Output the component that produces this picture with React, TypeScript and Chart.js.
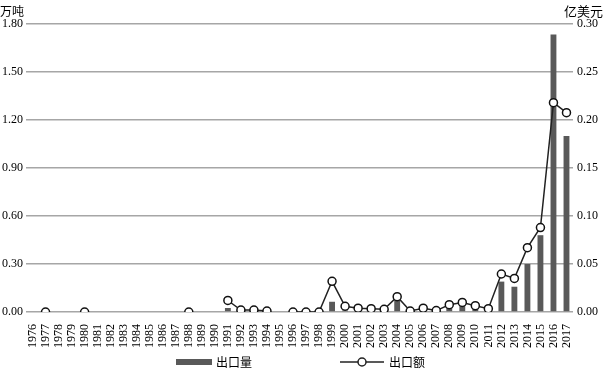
import React, { useEffect, useRef } from 'react';
import { Chart, registerables } from 'chart.js';

Chart.register(...registerables);

const years = [
  '1976', '1977', '1978', '1979', '1980', '1981', '1982', '1983', '1984', '1985',
  '1986', '1987', '1988', '1989', '1990', '1991', '1992', '1993', '1994', '1995',
  '1996', '1997', '1998', '1999', '2000', '2001', '2002', '2003', '2004', '2005',
  '2006', '2007', '2008', '2009', '2010', '2011', '2012', '2013', '2014', '2015',
  '2016', '2017',
];

// 出口量 (万吨), left axis
const exportVolume = [
  0, 0, 0, 0, 0, 0, 0, 0, 0, 0,
  0, 0, 0, 0, 0, 0.025, 0, 0, 0, 0,
  0, 0, 0, 0.064, 0.01, 0, 0, 0, 0.075, 0,
  0.005, 0, 0.04, 0.045, 0.03, 0.01, 0.19, 0.158, 0.30, 0.48,
  1.735, 1.10,
];

// 出口额 (亿美元), right axis
const exportValue = [
  null, 0, null, null, 0, null, null, null, null, null,
  null, null, 0, null, null, 0.012, 0.002, 0.002, 0.001, null,
  0, 0, 0, 0.032, 0.006, 0.004, 0.0035, 0.0028, 0.016, 0.001,
  0.004, 0.0015, 0.0076, 0.010, 0.0066, 0.0035, 0.0396, 0.035, 0.067, 0.088,
  0.218, 0.2076,
];

const leftMax = 1.8;
const leftStep = 0.3;
const rightMax = 0.3;
const rightStep = 0.05;

const volumeLabel = '出口量';
const valueLabel = '出口额';
const leftTitle = '万吨';
const rightTitle = '亿美元';

const CJK = '"Noto Sans CJK SC", sans-serif';
const NUM = '"Liberation Serif", "Times New Roman", serif';

const overlayPlugin = {
  id: 'overlay',
  afterDraw(chart: any) {
    const ctx = chart.ctx;
    ctx.save();
    ctx.fillStyle = '#000';
    ctx.font = '12px ' + CJK;
    ctx.textBaseline = 'middle';
    ctx.textAlign = 'left';
    ctx.fillText(leftTitle, 0, 11);
    ctx.font = '13px ' + CJK;
    ctx.textAlign = 'right';
    ctx.fillText(rightTitle, 603, 11);

    // legend
    const ly = 362;
    ctx.font = '12px ' + CJK;
    ctx.fillStyle = '#595959';
    ctx.fillRect(176, ly - 3, 36, 6);
    ctx.fillStyle = '#000';
    ctx.textAlign = 'left';
    ctx.fillText(volumeLabel, 216, ly);

    ctx.strokeStyle = '#222';
    ctx.lineWidth = 1.5;
    ctx.beginPath();
    ctx.moveTo(340, ly);
    ctx.lineTo(384, ly);
    ctx.stroke();
    ctx.beginPath();
    ctx.arc(362, ly, 4, 0, Math.PI * 2);
    ctx.fillStyle = '#fff';
    ctx.fill();
    ctx.stroke();
    ctx.fillStyle = '#000';
    ctx.fillText(valueLabel, 389, ly);
    ctx.restore();
  },
};

export default function App() {
  const ref = useRef<HTMLCanvasElement>(null);

  useEffect(() => {
    document.body.style.margin = '0';
    const canvas = ref.current;
    if (!canvas) return;
    const chart = new Chart(canvas, {
      data: {
        labels: years,
        datasets: [
          {
            type: 'line',
            label: valueLabel,
            data: exportValue as any,
            yAxisID: 'y1',
            order: 0,
            borderColor: '#222',
            borderWidth: 1.5,
            backgroundColor: '#fff',
            pointBackgroundColor: '#fff',
            pointBorderColor: '#111',
            pointBorderWidth: 1.5,
            pointRadius: 4,
            spanGaps: false,
            tension: 0,
          },
          {
            type: 'bar',
            label: volumeLabel,
            data: exportVolume,
            yAxisID: 'y',
            order: 1,
            backgroundColor: '#595959',
            barPercentage: 0.9,
            categoryPercentage: 0.5,
          },
        ],
      } as any,
      options: {
        responsive: false,
        animation: false,
        layout: { padding: { top: 24, bottom: 18, left: 0, right: 0 } },
        plugins: {
          legend: { display: false },
          tooltip: { enabled: false },
        },
        scales: {
          x: {
            offset: true,
            grid: { display: false },
            border: { display: false },
            ticks: {
              autoSkip: false,
              minRotation: 90,
              maxRotation: 90,
              padding: 4,
              color: '#000',
              font: { family: NUM, size: 12 },
            },
            afterFit(scale: any) {
              scale.height = 40;
            },
          },
          y: {
            position: 'left',
            min: 0,
            max: leftMax,
            border: { display: false },
            grid: { color: '#a6a6a6', lineWidth: 1.5, drawTicks: false },
            ticks: {
              stepSize: leftStep,
              padding: 3,
              color: '#000',
              font: { family: NUM, size: 12 },
              callback: (v: any) => Number(v).toFixed(2),
            },
            afterFit(scale: any) {
              scale.width = 26;
            },
          },
          y1: {
            position: 'right',
            min: 0,
            max: rightMax,
            border: { display: false },
            grid: { display: false, drawTicks: false },
            ticks: {
              stepSize: rightStep,
              padding: 4,
              color: '#000',
              font: { family: NUM, size: 12 },
              callback: (v: any) => Number(v).toFixed(2),
            },
            afterFit(scale: any) {
              scale.width = 31;
            },
          },
        },
      } as any,
      plugins: [overlayPlugin],
    });
    return () => chart.destroy();
  }, []);

  return (
    <div style={{ width: 604, height: 370 }}>
      <canvas ref={ref} width={604} height={370} />
    </div>
  );
}
